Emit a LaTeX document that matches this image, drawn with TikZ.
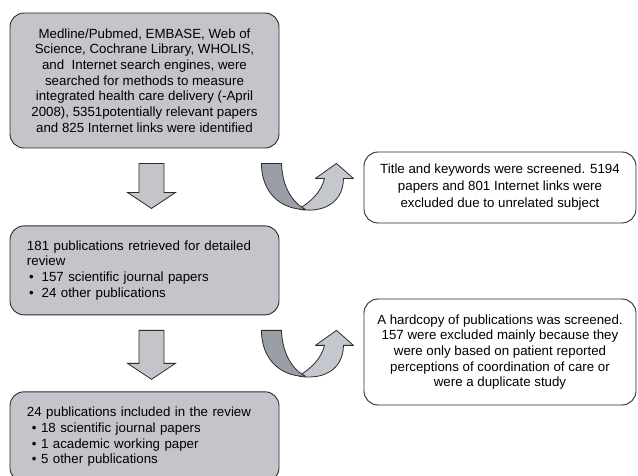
\documentclass[tikz,border=0pt]{standalone}
\usepackage{fontspec}
\setmainfont{Liberation Sans}
\usetikzlibrary{positioning,calc}
\definecolor{boxgrey}{HTML}{C3C5CB}
\definecolor{bandgrey}{HTML}{9A9EA6}
\definecolor{tipgrey}{HTML}{C4C7CD}
\definecolor{edge}{HTML}{2B2B2B}
\tikzset{
  greybox/.style={draw=edge, line width=0.9pt, fill=boxgrey, rounded corners=14pt,
                  minimum width=269pt, inner sep=0pt, font=\fontsize{13.3}{15.7}\selectfont},
  listbox/.style={greybox, align=left, text width=235pt, inner xsep=17pt},
  notebox/.style={draw=edge, line width=0.9pt, fill=white, rounded corners=14pt,
                  minimum width=272pt, inner sep=0pt, align=center,
                  font=\fontsize{13.3}{15.7}\selectfont},
  downarr/.style={draw=edge, line width=0.8pt, fill=boxgrey, line join=miter},
  uturn/.pic={
    \draw[fill=tipgrey, draw=edge, line width=0.8pt, line join=round]
      (38,-46) .. controls (66,-50) and (82,-36) .. (82,-15) -- (92,-15) -- (75,0)
      -- (54,-15) -- (63,-15) .. controls (60,-28) and (50,-38) .. (38,-45) -- cycle;
    \draw[fill=bandgrey, draw=edge, line width=0.8pt, line join=round]
      (0,0) -- (20,0) .. controls (21,-24) and (31,-39) .. (44,-46)
      .. controls (18,-46) and (0,-28) .. (0,0) -- cycle;
  }}

\begin{document}
\begin{tikzpicture}[x=1pt, y=1pt]
  \useasboundingbox (0,0) rectangle (638,475);
  \clip (0,0) rectangle (638,475);

  % left column
  \node[greybox, align=center, minimum height=135pt] (box1) at (144.5,394.5) {
    Medline/Pubmed, EMBASE, Web of\\
    Science, Cochrane Library, WHOLIS,\\
    and\ \ Internet search engines, were\\
    searched for methods to measure\\
    integrated health care delivery (-April\\
    2008), 5351potentially relevant papers\\
    and 825 Internet links were identified};
  \node[listbox, minimum height=89pt, below=77pt of box1] (box2) {
    181 publications retrieved for detailed\\
    review\\
    \hspace*{2pt}\textbullet\hspace{8pt}157 scientific journal papers\\
    \hspace*{2pt}\textbullet\hspace{8pt}24 other publications};
  \node[listbox, minimum height=90pt, below=76pt of box2] (box3) {
    24 publications included in the review\\
    \hspace*{5pt}\textbullet{} 18 scientific journal papers\\
    \hspace*{5pt}\textbullet{} 1 academic working paper\\
    \hspace*{5pt}\textbullet{} 5 other publications};

  % right column
  \node[notebox, minimum height=71pt, font=\fontsize{13.3}{17}\selectfont] (excl1) at (500,287.5) {
    Title and keywords were screened. 5194\\
    papers and 801 Internet links were\\
    excluded due to unrelated subject};
  \node[notebox, minimum height=106pt] (excl2) at (500,123) {
    A hardcopy of publications was screened.\\
    157 were excluded mainly because they\\
    were only based on patient reported\\
    perceptions of coordination of care or\\
    were a duplicate study};

  % block arrows
  \foreach \a/\b/\g in {box1/box2/17, box2/box3/12}
    \draw[downarr] ($(\a.south)+(-5.5,-15)$) -- ($(\b.north)+(-5.5,\g+16)$)
      -- ($(\b.north)+(-17,\g+16)$) -- ($(\b.north)+(7,\g)$)
      -- ($(\b.north)+(31,\g+16)$) -- ($(\b.north)+(19.5,\g+16)$)
      -- ($(\a.south)+(19.5,-15)$) -- cycle;
  \foreach \a in {box1, box2}
    \pic at ($(\a.south east)+(-18,-15)$) {uturn};
\end{tikzpicture}
\end{document}
